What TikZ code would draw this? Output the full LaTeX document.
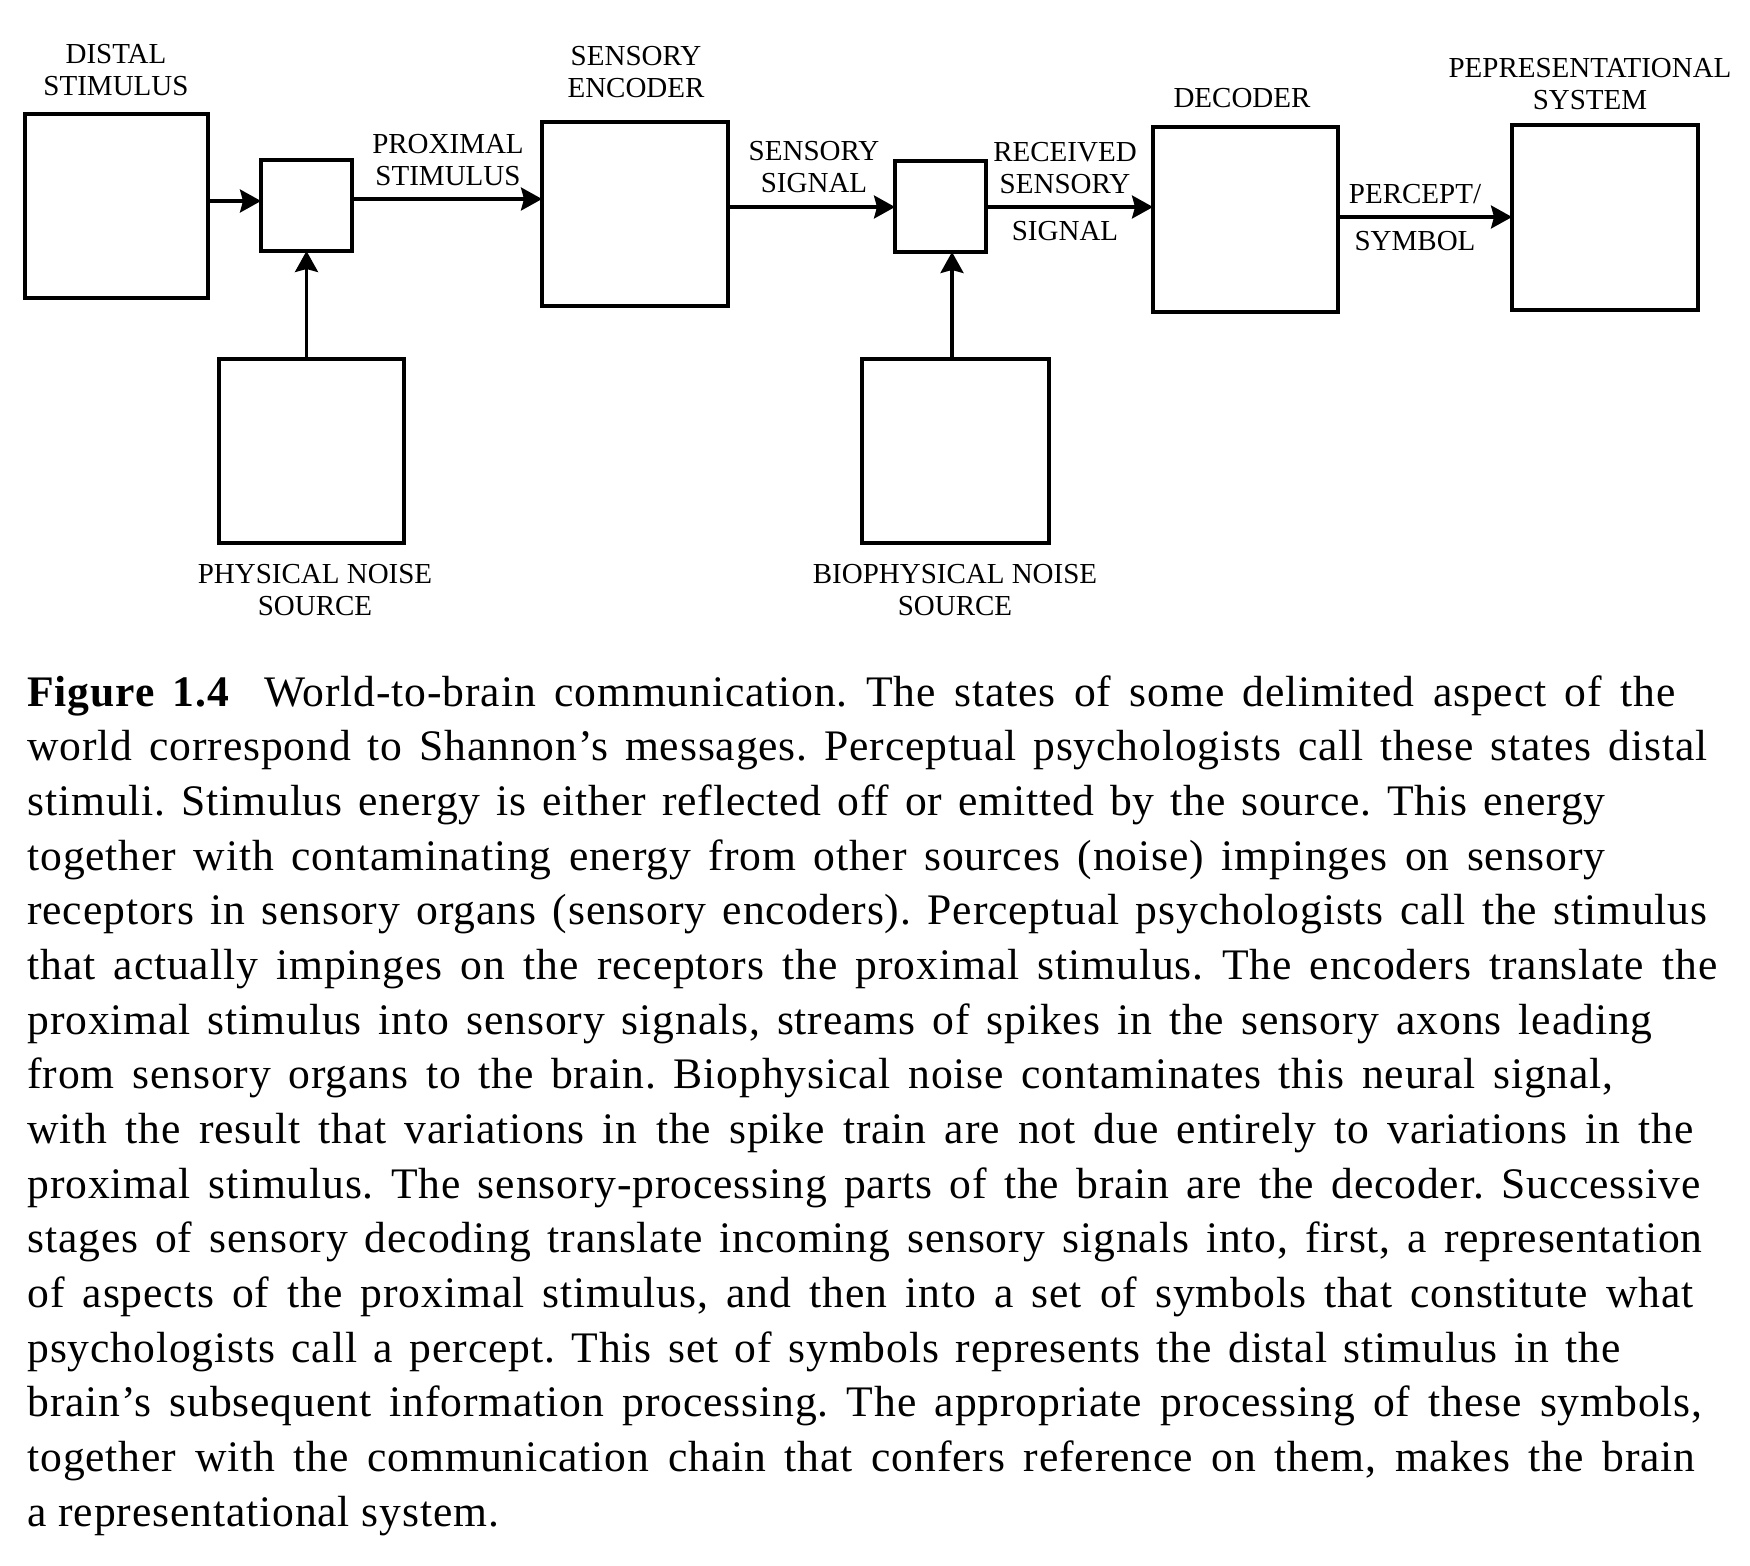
\documentclass[tikz,border=0pt]{standalone}
\usepackage{fontspec}
\setmainfont{Liberation Serif}
\newfontfamily\capfont[LetterSpace=2.0]{Liberation Serif}
\usetikzlibrary{arrows.meta}
\frenchspacing
\begin{document}
\begin{tikzpicture}[x=0.5pt,y=-0.5pt,
  blk/.style={draw, line width=1.6pt, inner sep=0pt, outer sep=0pt},
  lab/.style={font=\fontsize{14.5}{16}\selectfont, align=center, inner sep=0pt, anchor=base},
  captext/.style={font=\capfont\fontsize{21.8}{27}\selectfont, inner sep=0pt, anchor=base west},
  arr/.style={line width=1.6pt, -{Stealth[length=10.5pt,width=11.5pt,inset=1.5pt]}},
]
\useasboundingbox (0,0) rectangle (1750,1565);

% boxes
\node[blk, minimum width=91.5pt, minimum height=92pt] (distal) at (116.5,206) {};
\node[blk, minimum width=45.5pt, minimum height=45.5pt] (s1) at (306.5,205.5) {};
\node[blk, minimum width=93pt, minimum height=92pt] (enc) at (635,214) {};
\node[blk, minimum width=45.5pt, minimum height=45.5pt] (s2) at (940.5,206.5) {};
\node[blk, minimum width=92.5pt, minimum height=92.5pt] (dec) at (1245.5,219.5) {};
\node[blk, minimum width=93pt, minimum height=92.5pt] (rep) at (1605,217.5) {};
\node[blk, minimum width=92.5pt, minimum height=92pt] (phys) at (311.5,451) {};
\node[blk, minimum width=93.5pt, minimum height=92pt] (bio) at (955.5,451) {};

% arrow levels
\coordinate (y1) at (0,201);
\coordinate (y2) at (0,199);
\coordinate (y3) at (0,207);
\coordinate (y5) at (0,217);
\coordinate (xb) at (952,0);

\draw[arr] (distal.east |- y1) -- (s1.west |- y1);
\draw[arr] (s1.east |- y2) -- (enc.west |- y2);
\draw[arr] (enc.east |- y3) -- (s2.west |- y3);
\draw[arr] (s2.east |- y3) -- (dec.west |- y3);
\draw[arr] (dec.east |- y5) -- (rep.west |- y5);
\draw[arr] (phys.north -| s1) -- (s1.south);
\draw[arr] (xb |- bio.north) -- (xb |- s2.south);

% labels (anchor at baseline of last line)
\node[lab] (ldistal) at (116,95) {DISTAL\\STIMULUS};
\node[lab] (lenc) at (636,97) {SENSORY\\ENCODER};
\node[lab] (lprox) at (448,185) {PROXIMAL\\STIMULUS};
\node[lab] (lsig) at (814,192) {SENSORY\\SIGNAL};
\node[lab] (lrecv) at (1065,240) {RECEIVED\\SENSORY\\[7.5pt]SIGNAL};
\node[lab] (ldec) at (1242,107) {DECODER};
\node[lab] (lrep) at (1590,109) {PEPRESENTATIONAL\\SYSTEM};
\node[lab] (lperc) at (1415,250) {PERCEPT/\\[7.5pt]SYMBOL};
\node[lab] (lphys) at (315,615) {PHYSICAL NOISE\\SOURCE};
\node[lab] (lbio) at (955,615) {BIOPHYSICAL NOISE\\SOURCE};

% caption
\node[captext] (c1) at (27,706) {\makebox[824pt][s]{\textbf{Figure 1.4}\hspace{17pt}World-to-brain communication. The states of some delimited aspect of the}};
\node[captext] (c2) at (27,760.67) {\makebox[840pt][s]{world correspond to Shannon’s messages. Perceptual psychologists call these states distal}};
\node[captext] (c3) at (27,815.33) {\makebox[789pt][s]{stimuli. Stimulus energy is either reflected off or emitted by the source. This energy}};
\node[captext] (c4) at (27,870) {\makebox[789pt][s]{together with contaminating energy from other sources (noise) impinges on sensory}};
\node[captext] (c5) at (27,924.67) {\makebox[840pt][s]{receptors in sensory organs (sensory encoders). Perceptual psychologists call the stimulus}};
\node[captext] (c6) at (27,979.33) {\makebox[845pt][s]{that actually impinges on the receptors the proximal stimulus. The encoders translate the}};
\node[captext] (c7) at (27,1034) {\makebox[812.5pt][s]{proximal stimulus into sensory signals, streams of spikes in the sensory axons leading}};
\node[captext] (c8) at (27,1088.67) {\makebox[793pt][s]{from sensory organs to the brain. Biophysical noise contaminates this neural signal,}};
\node[captext] (c9) at (27,1143.33) {\makebox[833pt][s]{with the result that variations in the spike train are not due entirely to variations in the}};
\node[captext] (c10) at (27,1198) {\makebox[836.5pt][s]{proximal stimulus. The sensory-processing parts of the brain are the decoder. Successive}};
\node[captext] (c11) at (27,1252.67) {\makebox[837.5pt][s]{stages of sensory decoding translate incoming sensory signals into, first, a representation}};
\node[captext] (c12) at (27,1307.33) {\makebox[833pt][s]{of aspects of the proximal stimulus, and then into a set of symbols that constitute what}};
\node[captext] (c13) at (27,1362) {\makebox[796.5pt][s]{psychologists call a percept. This set of symbols represents the distal stimulus in the}};
\node[captext] (c14) at (27,1416.67) {\makebox[837.5pt][s]{brain’s subsequent information processing. The appropriate processing of these symbols,}};
\node[captext] (c15) at (27,1471.33) {\makebox[834pt][s]{together with the communication chain that confers reference on them, makes the brain}};
\node[captext] (c16) at (27,1526) {a representational system.};
\end{tikzpicture}
\end{document}
